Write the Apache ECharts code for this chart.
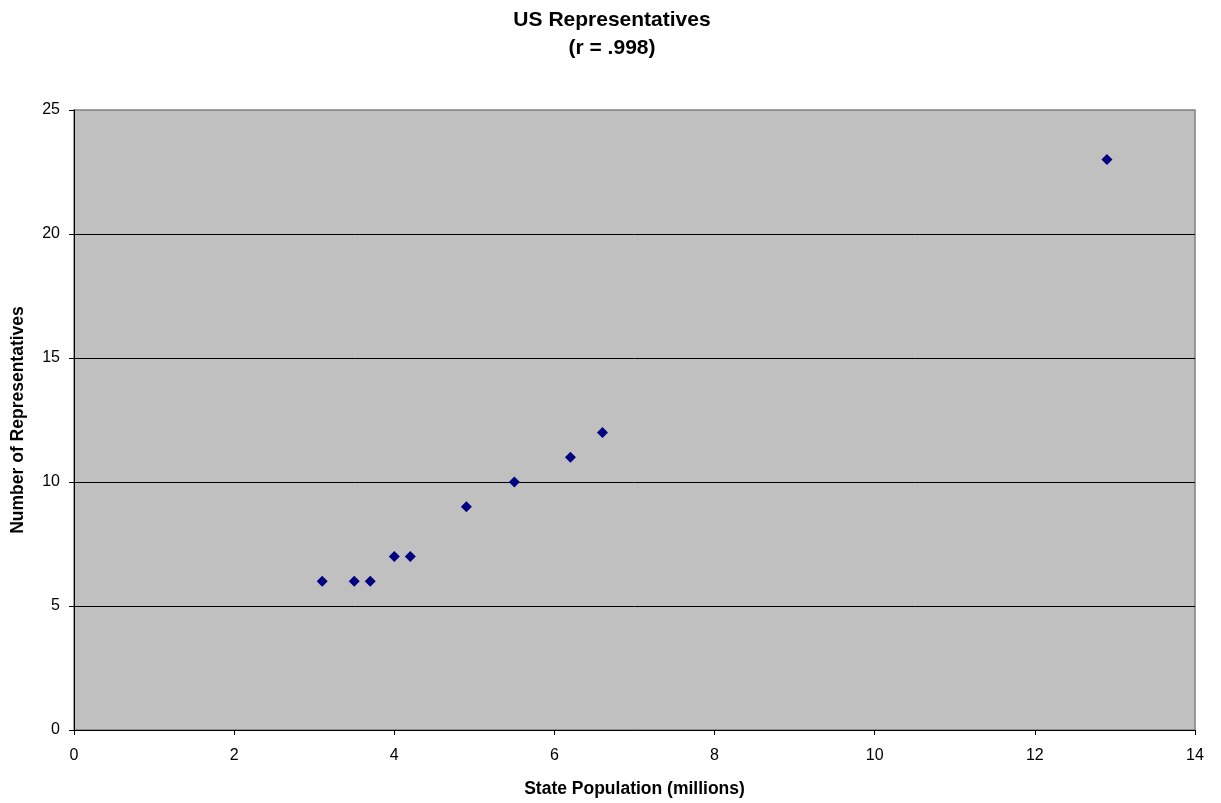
<!DOCTYPE html>
<html><head><meta charset="utf-8">
<script src="https://cdn.jsdelivr.net/npm/echarts@6/dist/echarts.min.js"></script>
<style>html,body{margin:0;padding:0;background:#fff}#c{width:1221px;height:803px}</style>
</head><body><div id="c"></div>
<script>
const population = [3.1, 3.5, 3.7, 4.0, 4.2, 4.9, 5.5, 6.2, 6.6, 12.9];
const representatives = [6, 6, 6, 7, 7, 9, 10, 11, 12, 23];
const titleText = 'US Representatives\n(r = .998)';
const xName = 'State Population (millions)';
const yName = 'Number of Representatives';

const chart = echarts.init(document.getElementById('c'));
const ff = '"Liberation Sans", Arial, sans-serif';
chart.setOption({
  animation: false,
  backgroundColor: '#ffffff',
  title: {
    text: titleText, top: 1, left: 607, textAlign: 'center',
    textStyle: {fontFamily: ff, fontSize: 21, fontWeight: 'bold', color: '#000', lineHeight: 28}
  },
  grid: {left: 74, top: 110, right: 26, bottom: 72, show: true, backgroundColor: '#c0c0c0', borderColor: '#808080', borderWidth: 1.5},
  xAxis: {
    type: 'value', min: 0, max: 14, interval: 2,
    name: xName, nameLocation: 'middle', nameGap: 50,
    nameTextStyle: {fontFamily: ff, fontSize: 17.5, fontWeight: 'bold', color: '#000'},
    axisLine: {show: true, lineStyle: {color: '#000', width: 1}},
    axisTick: {show: true, length: 5, lineStyle: {color: '#000'}},
    axisLabel: {fontFamily: ff, fontSize: 16, color: '#000', margin: 18},
    splitLine: {show: false}
  },
  yAxis: {
    type: 'value', min: 0, max: 25, interval: 5,
    name: yName, nameLocation: 'middle', nameGap: 47,
    nameTextStyle: {fontFamily: ff, fontSize: 17.5, fontWeight: 'bold', color: '#000'},
    axisLine: {show: true, lineStyle: {color: '#000', width: 1}},
    axisTick: {show: true, length: 5, lineStyle: {color: '#000'}},
    axisLabel: {fontFamily: ff, fontSize: 16, color: '#000', margin: 14},
    splitLine: {show: true, showMaxLine: false, showMinLine: false, lineStyle: {color: '#000', width: 1}}
  },
  series: [{
    type: 'scatter',
    data: population.map((x, i) => [x, representatives[i]]),
    symbol: 'diamond', symbolSize: 11,
    itemStyle: {color: '#000080', opacity: 1}
  }]
});
</script></body></html>
